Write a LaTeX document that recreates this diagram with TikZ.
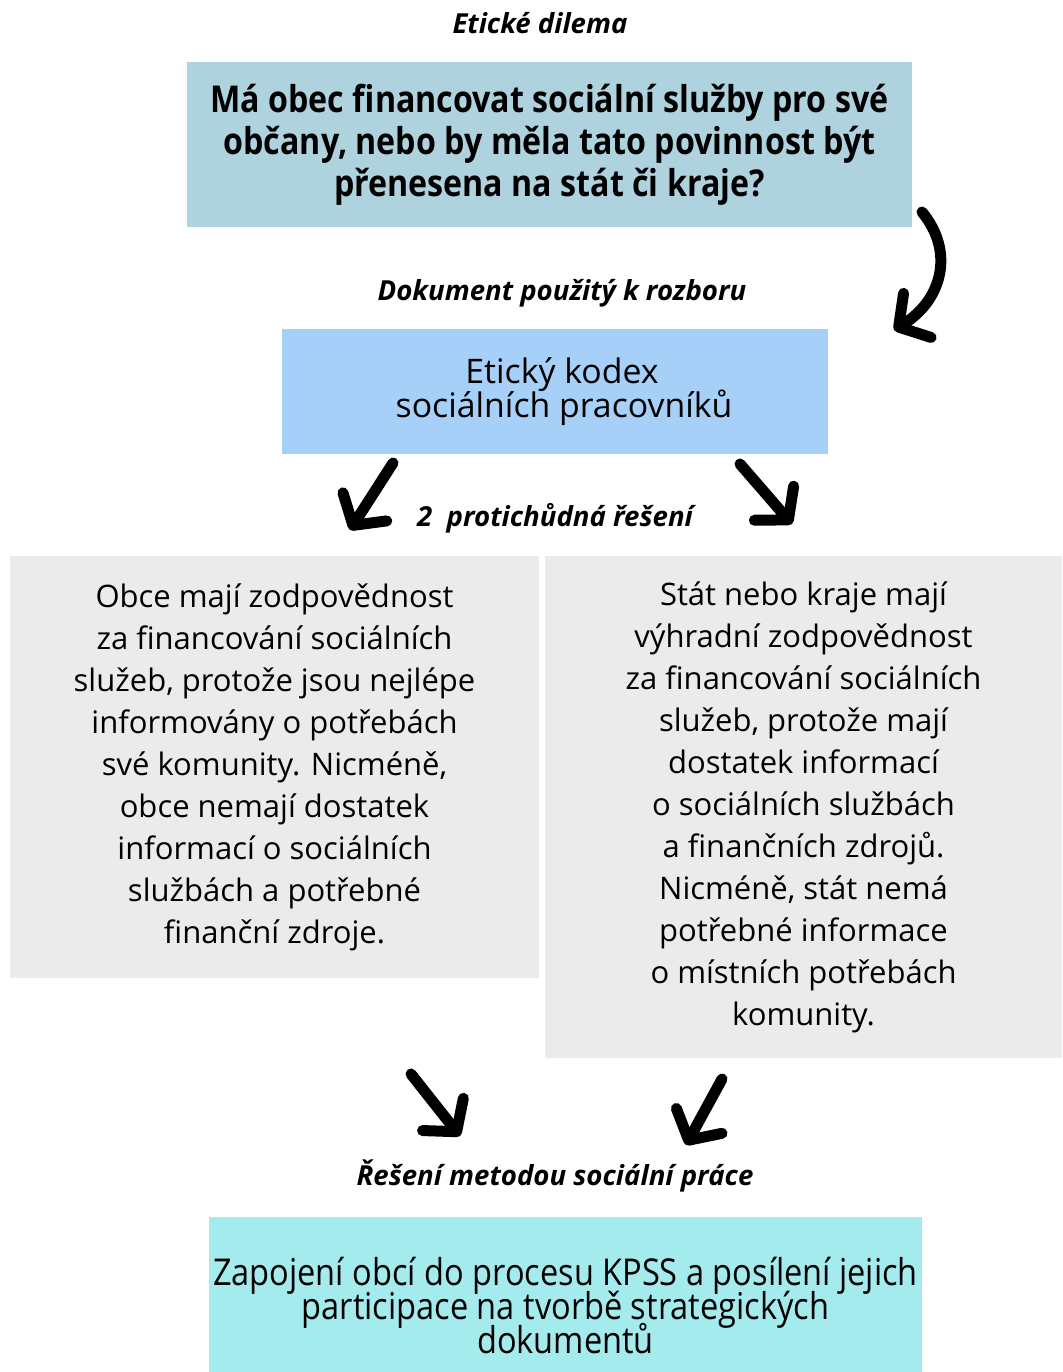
\documentclass[tikz,border=0pt]{standalone}
\usepackage{fontspec}
\setmainfont{Open Sans}
\newfontfamily\narrowfont[FakeStretch=0.87]{Open Sans}
\newfontfamily\slimfont[FakeStretch=0.88]{Open Sans}
\usetikzlibrary{arrows.meta}
\usetikzlibrary{positioning}
\definecolor{questblue}{HTML}{AED3DF}
\definecolor{codexblue}{HTML}{A6D0F8}
\definecolor{answergray}{HTML}{EBEBEB}
\definecolor{methodcyan}{HTML}{A4EBEE}
\newcommand{\tightlines}{\lineskiplimit=-20pt\relax}

\begin{document}
\begin{tikzpicture}[x=1pt, y=-1pt,
caption/.style={font=\fontsize{27.6}{30}\selectfont\bfseries\itshape, inner sep=0pt},
box/.style={inner sep=0pt, align=center, text=black},
questbox/.style={box, fill=questblue, minimum width=725pt, minimum height=165pt, font=\narrowfont\fontsize{37}{42}\selectfont\bfseries},
codexbox/.style={box, fill=codexblue, minimum width=546pt, minimum height=125pt, font=\fontsize{33.8}{34}\selectfont\tightlines},
answerbox/.style={box, fill=answergray, font=\fontsize{31}{42}\selectfont},
methodbox/.style={box, fill=methodcyan, minimum width=713pt, minimum height=176pt, font=\slimfont\fontsize{37}{34}\selectfont\tightlines},
bigarrow/.style={line width=11pt, line cap=round, -{Straight Barb[length=22pt, width=52pt, line cap=round, line join=round]}},
]
\useasboundingbox (0,0) rectangle (1062,1372);

\node[caption](dilema) at (540,23){Etické dilema};
\node[questbox](quest) at (549.5,144.5){Má obec financovat sociální služby pro své\\občany, nebo by měla tato povinnost být\\přenesena na stát či kraje?};

\node[caption](doc) at (562,293){Dokument použitý k rozboru};
\node[codexbox](codex) at (555,391.5){\hspace*{14pt}Etický kodex\\\hspace*{18pt}sociálních pracovníků};

\node[caption](two) at (555,518){2\ \ protichůdná řešení};
\node[answerbox, minimum width=529pt, minimum height=422pt](obce) at (274.5,767){Obce mají zodpovědnost\\za financování sociálních\\služeb, protože jsou nejlépe\\informovány o potřebách\\své komunity. Nicméně,\\obce nemají dostatek\\informací o sociálních\\službách a potřebné\\finanční zdroje.};
\node[answerbox, minimum width=517pt, minimum height=502pt](stat) at (803.5,807){Stát nebo kraje mají\\výhradní zodpovědnost\\za financování sociálních\\služeb, protože mají\\dostatek informací\\o sociálních službách\\a finančních zdrojů.\\Nicméně, stát nemá\\potřebné informace\\o místních potřebách\\komunity.};

\node[caption](method) at (555,1176){Řešení metodou sociální práce};
\node[methodbox](kpss) at (565.5,1305){Zapojení obcí do procesu KPSS a posílení jejich\\participace na tvorbě strategických\\dokumentů};

% arrows
\coordinate (a1) at (922,212);
\coordinate (a2) at (894,330);
\draw[bigarrow] (a1) .. controls (955,252) and (942,300) .. (a2);
\coordinate (b1) at (393,463);
\coordinate (b2) at (350,530);
\draw[bigarrow] (b1) -- (b2);
\coordinate (c1) at (740,464);
\coordinate (c2) at (792,524);
\draw[bigarrow] (c1) -- (c2);
\coordinate (d1) at (411,1074);
\coordinate (d2) at (460,1136);
\draw[bigarrow] (d1) -- (d2);
\coordinate (e1) at (722,1079);
\coordinate (e2) at (686,1145);
\draw[bigarrow] (e1) -- (e2);
\end{tikzpicture}
\end{document}
